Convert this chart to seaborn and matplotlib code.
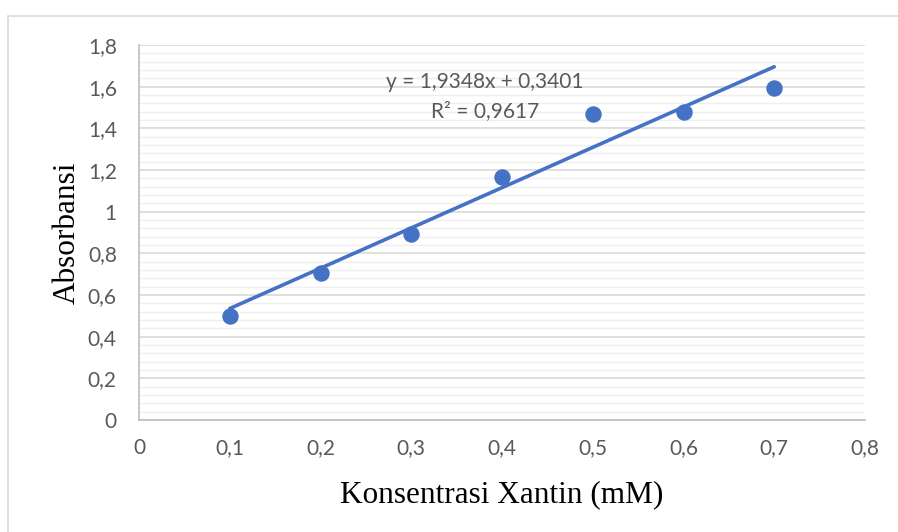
import numpy as np
import pandas as pd
import matplotlib
matplotlib.use("Agg")
import matplotlib.pyplot as plt
import seaborn as sns
from matplotlib.ticker import MultipleLocator, FuncFormatter
from matplotlib.patches import Rectangle

# data
konsentrasi = [0.1, 0.2, 0.3, 0.4, 0.5, 0.6, 0.7]
absorbansi = [0.497, 0.705, 0.895, 1.168, 1.467, 1.480, 1.595]
persamaan = "y = 1,9348x + 0,3401"
r_kuadrat = "R² = 0,9617"

df = pd.DataFrame({"x": konsentrasi, "y": absorbansi})

sns.set_style("white")
plt.rcParams['font.family'] = ['Lato', 'DejaVu Sans']

biru = "#4472C4"
abu = "#595959"

fig = plt.figure(figsize=(8.98, 5.32), dpi=100)
ax = fig.add_axes([139/898, 1 - 420/532, (865 - 139)/898, (420 - 45)/532])

# chart border like excel
fig.patches.append(Rectangle((8/898, -0.1), 1.2, 1 - 16/532 + 0.1, transform=fig.transFigure,
                             fill=False, edgecolor="#D9D9D9", linewidth=1.2))

sns.regplot(data=df, x="x", y="y", ax=ax, ci=None, color=biru,
            scatter_kws={"s": 140, "alpha": 1, "zorder": 4, "linewidths": 0},
            line_kws={"linewidth": 2.6, "zorder": 3})

ax.set_xlim(0, 0.8)
ax.set_ylim(0, 1.8)
ax.xaxis.set_major_locator(MultipleLocator(0.1))
ax.yaxis.set_major_locator(MultipleLocator(0.2))
ax.yaxis.set_minor_locator(MultipleLocator(0.04))

fmt = FuncFormatter(lambda v, p: ("%g" % round(v, 2)).replace(".", ","))
ax.xaxis.set_major_formatter(fmt)
ax.yaxis.set_major_formatter(fmt)

ax.grid(axis="y", which="major", color="#D9D9D9", linewidth=1.2, zorder=0)
ax.grid(axis="y", which="minor", color="#EFEFEF", linewidth=1.0, zorder=0)
ax.set_axisbelow(True)

for s in ["top", "right"]:
    ax.spines[s].set_visible(False)
for s in ["left", "bottom"]:
    ax.spines[s].set_color("#BFBFBF")
    ax.spines[s].set_linewidth(1.2)

ax.tick_params(axis="both", which="major", direction="out", length=5, width=1.2,
               color="#BFBFBF", labelcolor=abu, labelsize=15)
ax.tick_params(axis="x", pad=8)
ax.tick_params(axis="y", pad=11)
ax.tick_params(axis="y", which="minor", length=0)

ax.set_xlabel("Konsentrasi Xantin (mM)", family=["Liberation Serif"], fontsize=22.5,
              color="black", labelpad=16)
ax.set_ylabel("Absorbansi", family=["Liberation Serif"], fontsize=22.5,
              color="black", labelpad=4)

ax.text(0.381, 1.623, persamaan, ha="center", va="center", color=abu, fontsize=15)
ax.text(0.381, 1.483, r_kuadrat, ha="center", va="center", color=abu, fontsize=15)

fig.savefig("out.png", dpi=100)
